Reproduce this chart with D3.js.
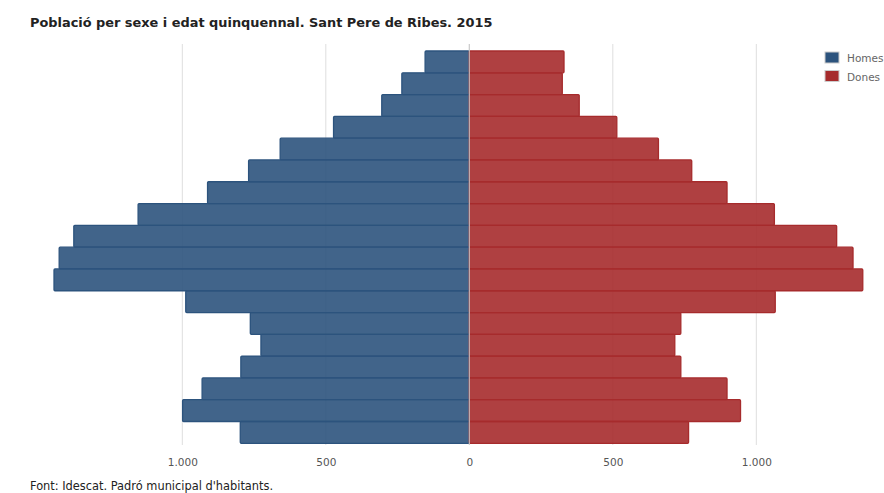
<!DOCTYPE html>
<html>
<head>
<meta charset="utf-8">
<script src="https://cdn.jsdelivr.net/npm/d3@7"></script>
<style>
body { margin: 0; background: #fff; }
</style>
</head>
<body>
<div id="canvas"></div>
<script>
var ages = ["85+","80-84","75-79","70-74","65-69","60-64","55-59","50-54","45-49",
	"40-44","35-39","30-34","25-29","20-24","15-19","10-14","5-9","0-4"];
var homes = [154,235,305,473,659,769,912,1154,1378,1429,1447,988,763,726,796,931,999,798];
var dones = [330,324,383,514,659,775,898,1063,1280,1337,1371,1066,737,716,737,898,945,764];
var ticks = [-1000,-500,0,500,1000];
var seriesNames = ["Homes","Dones"];
var colors = ["#2c537d","#a62b2c"];

var width = 884, height = 493;

var svg = d3.select("#canvas")
	.append("svg")
	.attr("width",width)
	.attr("height",height);

var x = d3.scaleLinear()
	.domain([-1000,1000])
	.range([182.3,756.3]);

var y = d3.scaleBand()
	.domain(ages)
	.range([51,443.3])
	.padding(0);

// grid
svg.append("g")
	.selectAll("line")
	.data(ticks)
	.enter()
	.append("line")
	.attr("x1",function(d){return x(d);})
	.attr("x2",function(d){return x(d);})
	.attr("y1",44)
	.attr("y2",445)
	.attr("stroke","#dedede")
	.attr("stroke-width",1);

// bars
var bars = svg.append("g");
bars.selectAll("rect.homes")
	.data(homes)
	.enter()
	.append("rect")
	.attr("class","homes")
	.attr("x",function(d){return x(-d);})
	.attr("y",function(d,i){return y(ages[i]);})
	.attr("width",function(d){return x(0)-x(-d);})
	.attr("height",y.bandwidth())
	.attr("fill",colors[0])
	.attr("fill-opacity",0.9)
	.attr("stroke",colors[0])
	.attr("stroke-width",1.3)
	.attr("rx",1);

bars.selectAll("rect.dones")
	.data(dones)
	.enter()
	.append("rect")
	.attr("class","dones")
	.attr("x",x(0))
	.attr("y",function(d,i){return y(ages[i]);})
	.attr("width",function(d){return x(d)-x(0);})
	.attr("height",y.bandwidth())
	.attr("fill",colors[1])
	.attr("fill-opacity",0.9)
	.attr("stroke",colors[1])
	.attr("stroke-width",1.3)
	.attr("rx",1);

// zero line
svg.append("line")
	.attr("x1",x(0)).attr("x2",x(0))
	.attr("y1",44).attr("y2",445)
	.attr("stroke","#c8c8c8")
	.attr("stroke-width",1);

// axis
var fmt = function(d){ return d3.format(",")(Math.abs(d)).replace(/,/g,"."); };
var axis = svg.append("g")
	.attr("transform","translate(0,456)")
	.call(d3.axisBottom(x).tickValues(ticks).tickFormat(fmt).tickSize(0));
axis.select(".domain").remove();
axis.selectAll("text")
	.attr("fill","#555")
	.attr("font-family","'DejaVu Sans', sans-serif")
	.attr("font-size",10.5);

// title
svg.append("text")
	.text("Població per sexe i edat quinquennal. Sant Pere de Ribes. 2015")
	.attr("x",30)
	.attr("y",27)
	.attr("font-family","'DejaVu Sans', sans-serif")
	.attr("font-weight","bold")
	.attr("font-size",12.9)
	.attr("fill","#222");

// source
svg.append("text")
	.text("Font: Idescat. Padró municipal d'habitants.")
	.attr("x",30)
	.attr("y",490)
	.attr("font-family","'DejaVu Sans', sans-serif")
	.attr("font-size",11.4)
	.attr("fill","#222");

// legend
var legend = svg.append("g")
	.selectAll("g")
	.data(seriesNames)
	.enter()
	.append("g")
	.attr("transform",function(d,i){return "translate(825,"+(52+i*18.5)+")";});
legend.append("rect")
	.attr("width",14)
	.attr("height",11)
	.attr("fill",function(d,i){return colors[i];})
	.attr("stroke","#ccc")
	.attr("stroke-width",1);
legend.append("text")
	.text(function(d){return d;})
	.attr("x",22)
	.attr("y",10)
	.attr("font-family","'DejaVu Sans', sans-serif")
	.attr("font-size",10.5)
	.attr("fill","#666");
</script>
</body>
</html>
